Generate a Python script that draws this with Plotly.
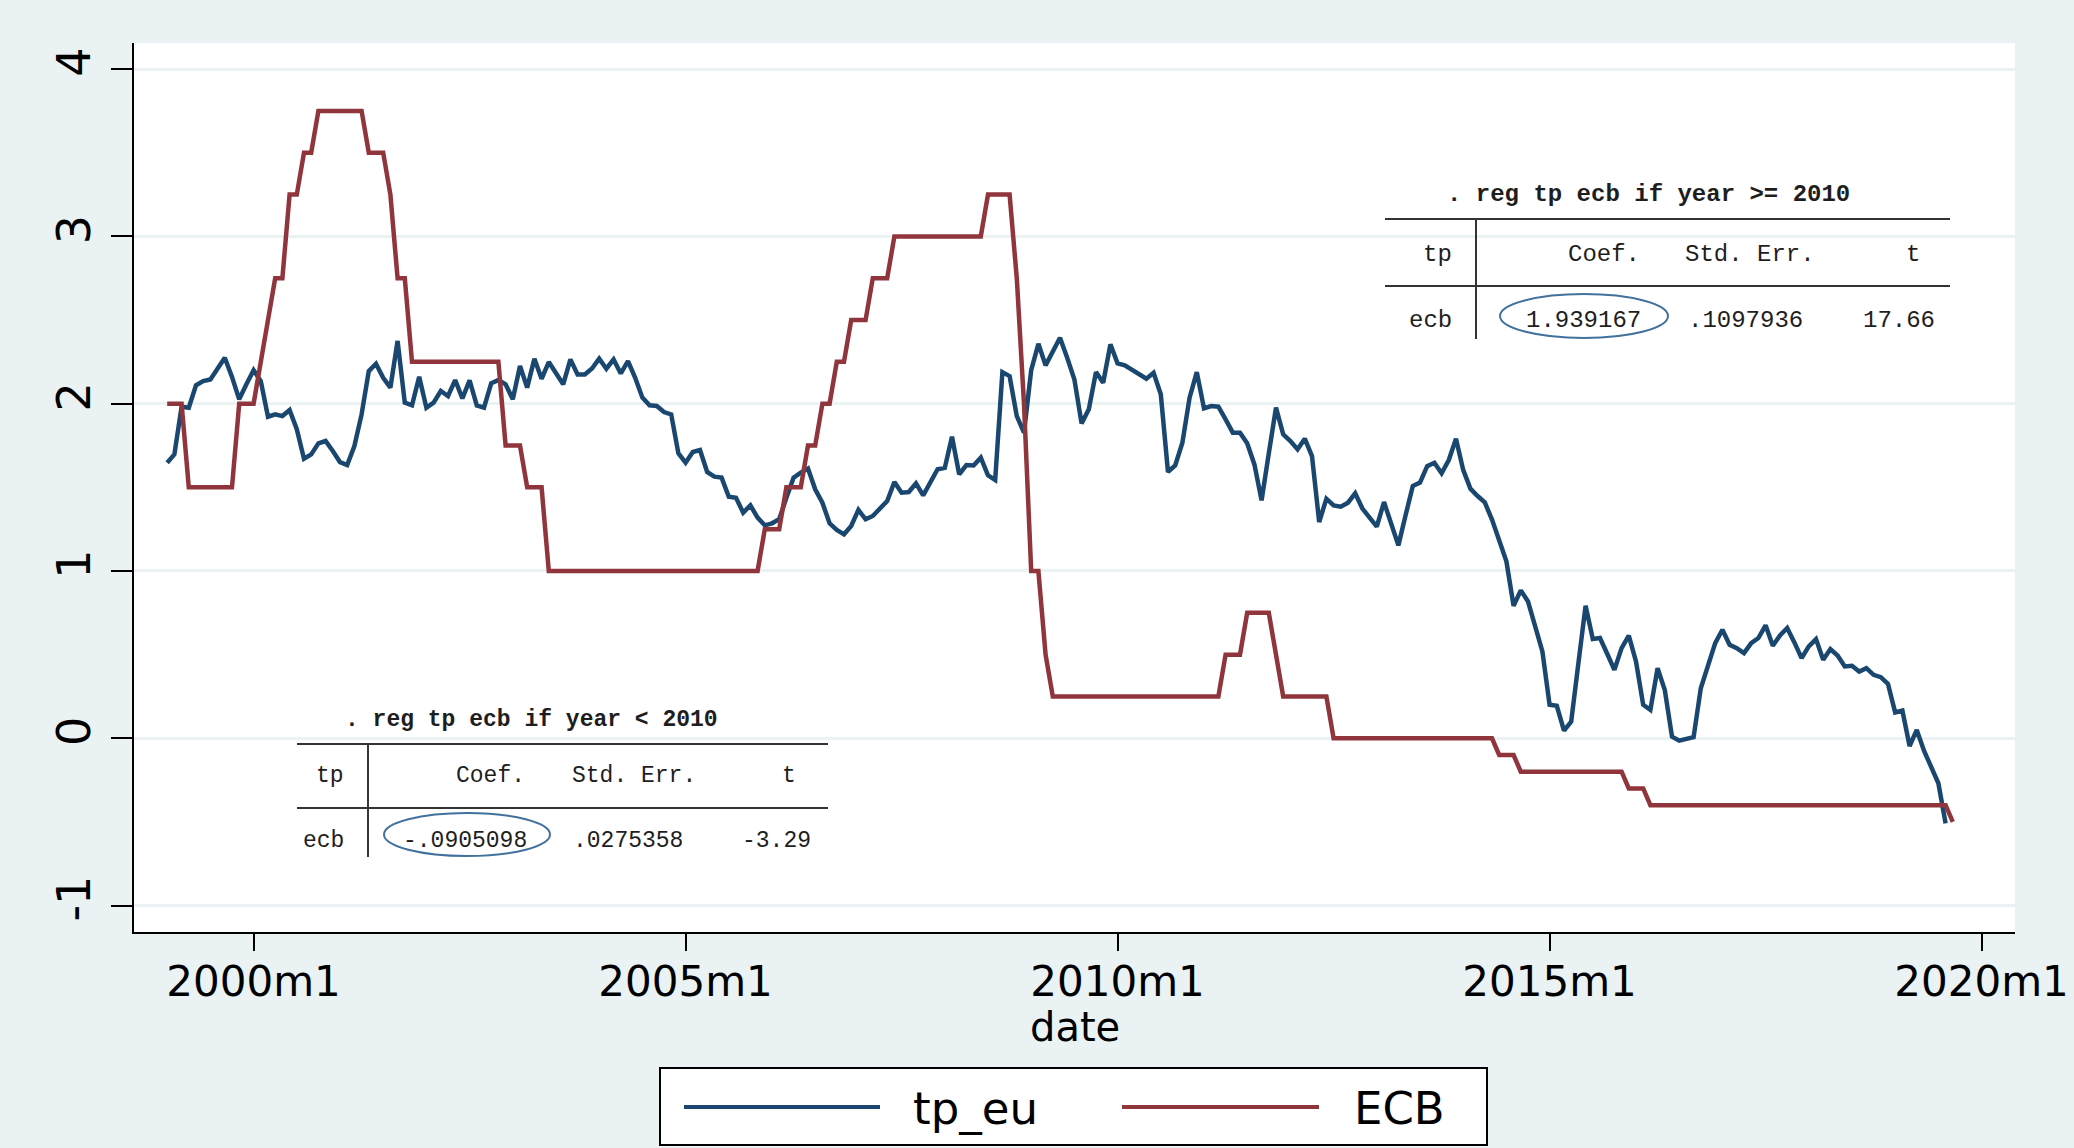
import plotly.graph_objects as go

# Stata %tm month index (months since 1960m1); 1999m1 = 468
FIRST_MONTH = 468

# Euro-area term premium, monthly 1999m1-2019m8
tp_eu = [
    1.647, 1.697, 1.982, 1.976, 2.110, 2.135, 2.145, 2.205, 2.275, 2.160, 2.026, 2.116,   # 1999
    2.200, 2.135, 1.922, 1.936, 1.926, 1.962, 1.847, 1.671, 1.697, 1.763, 1.777, 1.717,   # 2000
    1.651, 1.633, 1.747, 1.936, 2.195, 2.239, 2.155, 2.096, 2.375, 2.006, 1.990, 2.161,   # 2001
    1.976, 2.006, 2.076, 2.046, 2.141, 2.032, 2.139, 1.990, 1.976, 2.122, 2.141, 2.116,   # 2002
    2.026, 2.225, 2.096, 2.269, 2.149, 2.249, 2.181, 2.116, 2.265, 2.175, 2.175, 2.210,   # 2003
    2.269, 2.209, 2.265, 2.181, 2.255, 2.155, 2.036, 1.990, 1.986, 1.950, 1.936, 1.703,   # 2004
    1.647, 1.711, 1.723, 1.592, 1.564, 1.558, 1.444, 1.438, 1.349, 1.392, 1.319, 1.273,   # 2005
    1.285, 1.309, 1.438, 1.558, 1.588, 1.612, 1.488, 1.408, 1.285, 1.245, 1.219, 1.269,   # 2006
    1.365, 1.309, 1.329, 1.378, 1.418, 1.532, 1.468, 1.472, 1.524, 1.452, 1.524, 1.608,   # 2007
    1.616, 1.803, 1.578, 1.633, 1.631, 1.677, 1.572, 1.544, 2.189, 2.165, 1.926, 1.827,   # 2008
    2.200, 2.358, 2.229, 2.305, 2.394, 2.275, 2.145, 1.882, 1.966, 2.189, 2.125, 2.355,   # 2009
    2.241, 2.229, 2.201, 2.175, 2.149, 2.185, 2.056, 1.592, 1.631, 1.767, 2.036, 2.189,   # 2010
    1.972, 1.986, 1.982, 1.906, 1.827, 1.827, 1.763, 1.637, 1.422, 1.703, 1.976, 1.817,   # 2011
    1.777, 1.727, 1.791, 1.687, 1.293, 1.432, 1.392, 1.384, 1.408, 1.464, 1.373, 1.319,   # 2012
    1.265, 1.412, 1.285, 1.153, 1.333, 1.508, 1.528, 1.627, 1.647, 1.584, 1.663, 1.791,   # 2013
    1.604, 1.492, 1.448, 1.410, 1.307, 1.178, 1.058, 0.792, 0.884, 0.818, 0.679, 0.519,   # 2014
    0.200, 0.194, 0.046, 0.100, 0.449, 0.792, 0.593, 0.599, 0.505, 0.409, 0.539, 0.613,   # 2015
    0.459, 0.200, 0.170, 0.419, 0.289, 0.010, -0.014, -0.002, 0.006, 0.299, 0.439, 0.569,  # 2016
    0.649, 0.559, 0.539, 0.509, 0.569, 0.599, 0.675, 0.553, 0.615, 0.659, 0.573, 0.479,   # 2017
    0.549, 0.593, 0.469, 0.533, 0.495, 0.429, 0.433, 0.399, 0.419, 0.379, 0.365, 0.325,   # 2018
    0.154, 0.166, -0.046, 0.050, -0.074, -0.180, -0.269, -0.509,                          # 2019
]

# ECB deposit facility rate, monthly 1999m1-2019m9
ecb = [
    2.00, 2.00, 2.00, 1.50, 1.50, 1.50, 1.50, 1.50, 1.50, 1.50, 2.00, 2.00,   # 1999
    2.00, 2.25, 2.50, 2.75, 2.75, 3.25, 3.25, 3.50, 3.50, 3.75, 3.75, 3.75,   # 2000
    3.75, 3.75, 3.75, 3.75, 3.50, 3.50, 3.50, 3.25, 2.75, 2.75, 2.25, 2.25,   # 2001
    2.25, 2.25, 2.25, 2.25, 2.25, 2.25, 2.25, 2.25, 2.25, 2.25, 2.25, 1.75,   # 2002
    1.75, 1.75, 1.50, 1.50, 1.50, 1.00, 1.00, 1.00, 1.00, 1.00, 1.00, 1.00,   # 2003
    1.00, 1.00, 1.00, 1.00, 1.00, 1.00, 1.00, 1.00, 1.00, 1.00, 1.00, 1.00,   # 2004
    1.00, 1.00, 1.00, 1.00, 1.00, 1.00, 1.00, 1.00, 1.00, 1.00, 1.00, 1.25,   # 2005
    1.25, 1.25, 1.50, 1.50, 1.50, 1.75, 1.75, 2.00, 2.00, 2.25, 2.25, 2.50,   # 2006
    2.50, 2.50, 2.75, 2.75, 2.75, 3.00, 3.00, 3.00, 3.00, 3.00, 3.00, 3.00,   # 2007
    3.00, 3.00, 3.00, 3.00, 3.00, 3.00, 3.25, 3.25, 3.25, 3.25, 2.75, 2.00,   # 2008
    1.00, 1.00, 0.50, 0.25, 0.25, 0.25, 0.25, 0.25, 0.25, 0.25, 0.25, 0.25,   # 2009
    0.25, 0.25, 0.25, 0.25, 0.25, 0.25, 0.25, 0.25, 0.25, 0.25, 0.25, 0.25,   # 2010
    0.25, 0.25, 0.25, 0.50, 0.50, 0.50, 0.75, 0.75, 0.75, 0.75, 0.50, 0.25,   # 2011
    0.25, 0.25, 0.25, 0.25, 0.25, 0.25, 0.00, 0.00, 0.00, 0.00, 0.00, 0.00,   # 2012
    0.00, 0.00, 0.00, 0.00, 0.00, 0.00, 0.00, 0.00, 0.00, 0.00, 0.00, 0.00,   # 2013
    0.00, 0.00, 0.00, 0.00, 0.00, -0.10, -0.10, -0.10, -0.20, -0.20, -0.20, -0.20,   # 2014
    -0.20, -0.20, -0.20, -0.20, -0.20, -0.20, -0.20, -0.20, -0.20, -0.20, -0.20, -0.30,  # 2015
    -0.30, -0.30, -0.40, -0.40, -0.40, -0.40, -0.40, -0.40, -0.40, -0.40, -0.40, -0.40,  # 2016
    -0.40, -0.40, -0.40, -0.40, -0.40, -0.40, -0.40, -0.40, -0.40, -0.40, -0.40, -0.40,  # 2017
    -0.40, -0.40, -0.40, -0.40, -0.40, -0.40, -0.40, -0.40, -0.40, -0.40, -0.40, -0.40,  # 2018
    -0.40, -0.40, -0.40, -0.40, -0.40, -0.40, -0.40, -0.40, -0.50,                       # 2019
]

tp_months = [FIRST_MONTH + i for i in range(len(tp_eu))]
ecb_months = [FIRST_MONTH + i for i in range(len(ecb))]

x_tick_months = [480, 540, 600, 660, 720]
x_tick_labels = ["2000m1", "2005m1", "2010m1", "2015m1", "2020m1"]
y_tick_values = [-1, 0, 1, 2, 3, 4]
y_tick_labels = ["-1", "0", "1", "2", "3", "4"]

# regression output blocks
reg_pre_cmd = ". reg tp ecb if year &lt; 2010"
reg_pre_row = ["-.0905098", ".0275358", "-3.29"]
reg_post_cmd = ". reg tp ecb if year &gt;= 2010"
reg_post_row = ["1.939167", ".1097936", "17.66"]
reg_header = ["Coef.", "Std. Err.", "t"]

NAVY = "#1a476f"
MAROON = "#90353b"
BG = "#eaf2f3"
OVAL = "#41719c"
INK = "#1e1e1e"
RULE = "#333333"
SANS = "DejaVu Sans"
MONO = "Liberation Mono"

W, H = 2074, 1148
L, R, T, B = 134, 2015, 43, 932  # plot area in pixels


def px(x):
    return (x - L) / (R - L)


def py(y):
    return (B - y) / (B - T)


fig = go.Figure()
fig.add_trace(go.Scatter(x=tp_months, y=tp_eu, mode="lines", name="tp_eu",
                         line=dict(color=NAVY, width=4.5), showlegend=False))
fig.add_trace(go.Scatter(x=ecb_months, y=ecb, mode="lines", name="ECB",
                         line=dict(color=MAROON, width=4.5), showlegend=False))

shapes = []
annotations = []


def text(x, y, s, size, xanchor="left", font=SANS, color="black", yanchor="middle"):
    annotations.append(dict(x=px(x), y=py(y), xref="paper", yref="paper", text=s,
                            showarrow=False, xanchor=xanchor, yanchor=yanchor,
                            font=dict(family=font, size=size, color=color)))


def hline(x0, x1, y, color, width):
    shapes.append(dict(type="line", xref="paper", yref="paper", x0=px(x0), x1=px(x1),
                       y0=py(y), y1=py(y), line=dict(color=color, width=width)))


def vline(x, y0, y1, color, width):
    shapes.append(dict(type="line", xref="paper", yref="paper", x0=px(x), x1=px(x),
                       y0=py(y0), y1=py(y1), line=dict(color=color, width=width)))


def reg_table(left, right, cmd, cmd_x, row, col_rights, header_rights, sep_x, ys, oval, size):
    cmd_y, top_rule, head_y, mid_rule, row_y, sep_end = ys
    # white panel hides the grid line behind the output block
    shapes.append(dict(type="rect", xref="paper", yref="paper", x0=px(left), x1=px(right),
                       y0=py(top_rule - 45), y1=py(top_rule + 122), fillcolor="white",
                       line=dict(width=0), layer="between"))
    text(cmd_x, cmd_y, "<b>" + cmd + "</b>", size, "left", MONO, INK)
    hline(left, right, top_rule, RULE, 2)
    hline(left, right, mid_rule, RULE, 2)
    vline(sep_x, top_rule, sep_end, RULE, 2)
    text(sep_x - 22, head_y, "tp", size, "right", MONO, INK)
    text(sep_x - 22, row_y, "ecb", size, "right", MONO, INK)
    for s, xr in zip(reg_header, header_rights):
        text(xr, head_y, s, size, "right", MONO, INK)
    for s, xr in zip(row, col_rights):
        text(xr, row_y, s, size, "right", MONO, INK)
    ox0, ox1, oy0, oy1 = oval
    shapes.append(dict(type="circle", xref="paper", yref="paper", x0=px(ox0), x1=px(ox1),
                       y0=py(oy1), y1=py(oy0), line=dict(color=OVAL, width=2)))


reg_table(297, 828, reg_pre_cmd, 343, reg_pre_row,
          [529, 685, 813], [527, 698, 798], 368,
          (720, 744, 776, 808, 841, 857), (384, 550, 813, 856), 23)
reg_table(1385, 1950, reg_post_cmd, 1445, reg_post_row,
          [1643, 1805, 1937], [1642, 1817, 1922], 1476,
          (195, 219, 255, 286, 321, 339), (1500, 1668, 294, 338), 24)

# axis title
text(1075, 1002, "date", 40, "center", yanchor="top")

# legend panel
shapes.append(dict(type="rect", xref="paper", yref="paper", x0=px(660), x1=px(1487),
                   y0=py(1145), y1=py(1068), fillcolor="white",
                   line=dict(color="black", width=2)))
hline(684, 880, 1107, NAVY, 4)
text(911, 1108, "tp_eu", 45, "left")
hline(1122, 1319, 1107, MAROON, 4)
text(1352, 1108, "ECB", 45, "left")

fig.update_layout(
    width=W, height=H,
    margin=dict(l=L, r=W - R, t=T, b=H - B, pad=0, autoexpand=False),
    paper_bgcolor=BG, plot_bgcolor="white",
    shapes=shapes, annotations=annotations,
    showlegend=False,
    font=dict(family=SANS, color="black"),
)
fig.update_xaxes(
    range=[463.39, 724.64], showgrid=False, zeroline=False, automargin=False,
    tickmode="array", tickvals=x_tick_months, ticktext=x_tick_labels,
    ticks="outside", ticklen=17, tickwidth=2, tickcolor="black",
    showline=True, linecolor="black", linewidth=2,
    ticklabelstandoff=-5,
    tickfont=dict(family=SANS, size=42, color="black"),
)
fig.update_yaxes(
    range=[-1.158, 4.156], zeroline=False, automargin=False,
    tickmode="array", tickvals=y_tick_values, ticktext=y_tick_labels,
    showgrid=True, gridcolor=BG, gridwidth=3,
    ticks="outside", ticklen=21, tickwidth=2, tickcolor="black",
    showline=True, linecolor="black", linewidth=2,
    tickangle=-90, ticklabelstandoff=3,
    tickfont=dict(family=SANS, size=46, color="black"),
)

fig.write_html("out.html", config={"displayModeBar": False})
